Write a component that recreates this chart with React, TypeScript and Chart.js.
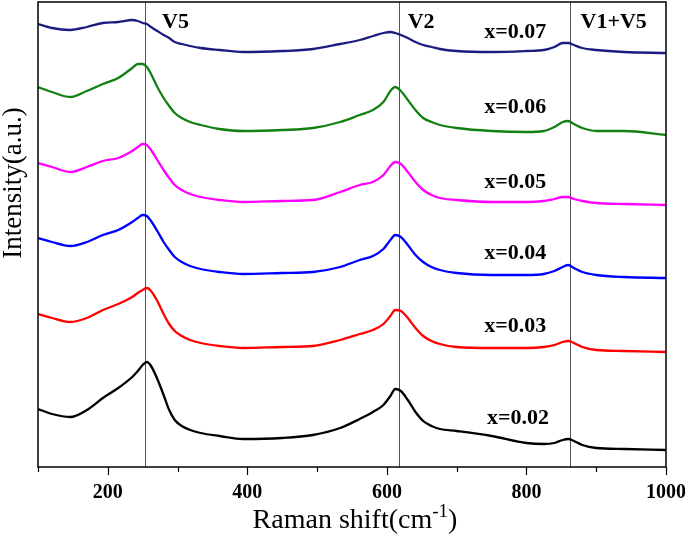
import React, { useEffect, useRef } from "react";
import { Chart, registerables } from "chart.js";

Chart.register(...registerables);

// Raman shift sample positions (cm-1)
const ramanShift = [100, 120, 146, 170, 193, 215, 235, 243, 250, 256, 262, 271, 280, 288, 296, 306, 318, 333, 360, 394, 450, 494, 533, 561, 580, 595, 605, 612, 620, 630, 641, 652, 664, 676, 700, 750, 800, 825, 840, 852, 860, 868, 880, 900, 940, 1000];

// Intensities (a.u., stacked offsets as in the figure)
const x002 = [58, 53, 50, 57, 69, 79, 90, 96, 102, 105, 101, 88, 72, 57, 47, 41, 37, 34, 31, 28, 29, 32, 39, 48, 55, 62, 71, 78, 76, 67, 55, 46, 41, 38, 36, 31, 24, 23, 24, 27, 28, 26, 22, 19, 18, 17];
const x003 = [153, 149, 145, 149, 157, 163, 170, 174, 177, 179, 176, 166, 153, 143, 136, 131, 127, 124, 121, 119, 120, 121, 127, 133, 137, 143, 151, 157, 156, 149, 139, 131, 126, 123, 120, 119, 119, 120, 122, 125, 126, 124, 120, 117, 116, 115];
const x004 = [229, 225, 221, 225, 232, 237, 245, 249, 252, 251, 246, 236, 225, 217, 210, 205, 201, 198, 195, 193, 194, 195, 200, 207, 211, 218, 227, 232, 230, 222, 212, 205, 200, 197, 194, 192, 192, 193, 196, 200, 202, 199, 195, 192, 190, 189];
const x005 = [304, 300, 295, 300, 306, 309, 316, 320, 323, 322, 317, 307, 297, 289, 282, 277, 273, 270, 267, 265, 266, 267, 275, 282, 285, 292, 301, 305, 303, 295, 285, 277, 272, 269, 267, 265, 265, 266, 268, 270, 270, 268, 266, 264, 263, 262];
const x006 = [380, 375, 370, 376, 383, 389, 399, 403, 403, 400, 393, 380, 369, 361, 354, 349, 345, 342, 338, 336, 337, 339, 345, 352, 357, 365, 376, 380, 376, 367, 357, 349, 345, 342, 339, 336, 335, 336, 340, 345, 346, 343, 339, 336, 336, 332];
const x007 = [443, 439, 437, 440, 444, 445, 447, 446, 444, 443, 440, 436, 432, 429, 425, 423, 421, 419, 417, 415, 416, 418, 423, 427, 431, 434, 435, 434, 432, 429, 425, 422, 420, 418, 416, 415, 416, 417, 420, 424, 424, 422, 419, 417, 415, 414];

const seriesNames = ["x=0.02", "x=0.03", "x=0.04", "x=0.05", "x=0.06", "x=0.07"];
const seriesValues = [x002, x003, x004, x005, x006, x007];
const seriesColors = ["#000000", "#ff0000", "#0000ff", "#ff00ff", "#138013", "#1c1c80"];
// label anchor (in data units)
const seriesLabelX = [788, 784, 784, 784, 784, 784];
const seriesLabelY = [49, 141, 214, 285, 360, 435];

// band markers
const bandPositions = [254, 617, 863];
const bandNames = ["V5", "V2", "V1+V5"];
const bandLabelX = [297, 649, 925];
const bandLabelY = 445;

const xMin = 100;
const xMax = 1000;
const yMin = 0;
const yMax = 465;

const SERIF = "'Liberation Serif', 'Times New Roman', serif";

const overlay = {
  id: "overlay",
  beforeDatasetsDraw(chart: any) {
    const { ctx, chartArea: a, scales } = chart;
    const xs = scales.x;
    ctx.save();
    ctx.strokeStyle = "#555555";
    ctx.lineWidth = 1;
    for (const v of bandPositions) {
      const px = Math.round(xs.getPixelForValue(v)) + 0.5;
      ctx.beginPath();
      ctx.moveTo(px, a.top);
      ctx.lineTo(px, a.bottom);
      ctx.stroke();
    }
    ctx.restore();
  },
  afterDatasetsDraw(chart: any) {
    const { ctx, chartArea: a, scales } = chart;
    const xs = scales.x;
    const ys = scales.y;
    ctx.save();
    // frame
    ctx.strokeStyle = "#000";
    ctx.lineWidth = 1.5;
    ctx.strokeRect(a.left, a.top, a.right - a.left, a.bottom - a.top);
    // tick marks
    ctx.lineWidth = 1.2;
    for (let v = xMin; v <= xMax; v += 100) {
      const px = Math.round(xs.getPixelForValue(v)) + 0.5;
      const len = v % 200 === 0 ? 8 : 5;
      ctx.beginPath();
      ctx.moveTo(px, a.bottom);
      ctx.lineTo(px, a.bottom + len);
      ctx.stroke();
    }
    // band labels
    ctx.fillStyle = "#000";
    ctx.textAlign = "center";
    ctx.textBaseline = "middle";
    ctx.font = `bold 22px ${SERIF}`;
    bandNames.forEach((n, i) => {
      ctx.fillText(n, xs.getPixelForValue(bandLabelX[i]), ys.getPixelForValue(bandLabelY));
    });
    // series labels
    seriesNames.forEach((n, i) => {
      ctx.fillText(n, xs.getPixelForValue(seriesLabelX[i]), ys.getPixelForValue(seriesLabelY[i]));
    });
    // x axis title with superscript
    const base = 528;
    ctx.textBaseline = "alphabetic";
    ctx.textAlign = "left";
    const main = "Raman shift(cm";
    const sup = "-1";
    const close = ")";
    ctx.font = `28px ${SERIF}`;
    const wMain = ctx.measureText(main).width;
    const wClose = ctx.measureText(close).width;
    ctx.font = `19px ${SERIF}`;
    const wSup = ctx.measureText(sup).width;
    const total = wMain + wSup + wClose;
    let sx = 355 - total / 2;
    ctx.font = `28px ${SERIF}`;
    ctx.fillText(main, sx, base);
    sx += wMain;
    ctx.font = `19px ${SERIF}`;
    ctx.fillText(sup, sx, base - 11);
    sx += wSup;
    ctx.font = `28px ${SERIF}`;
    ctx.fillText(close, sx, base);
    // y axis title
    ctx.save();
    ctx.translate(14, 183);
    ctx.rotate(-Math.PI / 2);
    ctx.textAlign = "center";
    ctx.textBaseline = "middle";
    ctx.font = `27px ${SERIF}`;
    ctx.fillText("Intensity(a.u.)", 0, 0);
    ctx.restore();
    ctx.restore();
  },
};

export default function App() {
  const ref = useRef<HTMLCanvasElement | null>(null);
  useEffect(() => {
    if (!ref.current) return;
    const chart = new Chart(ref.current, {
      type: "line",
      data: {
        datasets: seriesValues.map((vals, i) => ({
          label: seriesNames[i],
          data: ramanShift.map((x, j) => ({ x, y: vals[j] })),
          borderColor: seriesColors[i],
          backgroundColor: seriesColors[i],
          borderWidth: 2.3,
          pointRadius: 0,
          cubicInterpolationMode: "monotone" as const,
          fill: false,
        })),
      },
      options: {
        responsive: false,
        animation: false,
        events: [],
        layout: { padding: { left: 38, right: 19, top: 2, bottom: 0 } },
        plugins: { legend: { display: false }, tooltip: { enabled: false }, title: { display: false } },
        scales: {
          x: {
            type: "linear",
            min: xMin,
            max: xMax,
            border: { display: false },
            grid: { display: false, drawTicks: true, tickLength: 8 },
            afterFit: (s: any) => {
              s.height = 71;
              s.paddingLeft = 0;
              s.paddingRight = 0;
            },
            ticks: {
              stepSize: 100,
              autoSkip: false,
              maxRotation: 0,
              padding: 6,
              color: "#000",
              font: { family: SERIF, size: 20, weight: "bold" },
              callback: (v: any) => (Number(v) % 200 === 0 ? String(v) : ""),
            },
          },
          y: {
            display: false,
            min: yMin,
            max: yMax,
          },
        },
      },
      plugins: [overlay],
    });
    return () => chart.destroy();
  }, []);
  return (
    <div style={{ position: "absolute", left: 0, top: 0, width: 685, height: 538, background: "#fff" }}>
      <canvas ref={ref} width={685} height={538} style={{ width: 685, height: 538 }} />
    </div>
  );
}
